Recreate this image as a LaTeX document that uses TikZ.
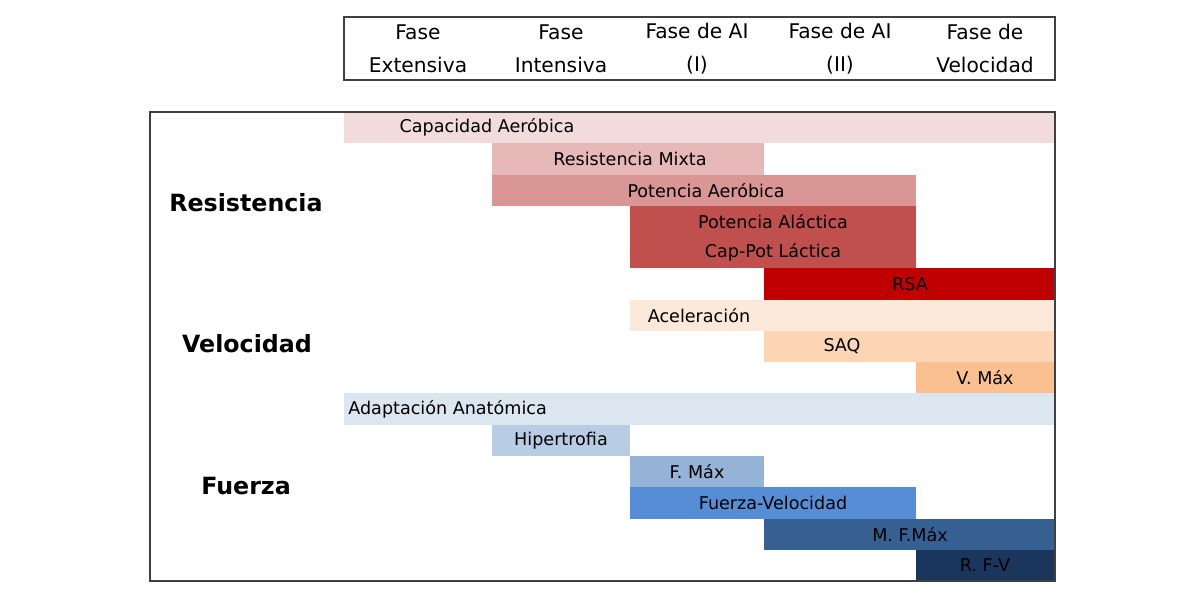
\documentclass[tikz,border=0pt]{standalone}
\usepackage{fontspec}
\setmainfont{DejaVu Sans}
\usepackage{tikz}

\definecolor{capaerC}{HTML}{F2DCDB}
\definecolor{resmixC}{HTML}{E6B9B8}
\definecolor{potaerC}{HTML}{D99694}
\definecolor{potalacC}{HTML}{C0504D}
\definecolor{rsaC}{HTML}{C00000}
\definecolor{acelC}{HTML}{FDE9D9}
\definecolor{saqC}{HTML}{FCD5B4}
\definecolor{vmaxC}{HTML}{FAC090}
\definecolor{adaptC}{HTML}{DCE6F1}
\definecolor{hiperC}{HTML}{B8CCE4}
\definecolor{fmaxC}{HTML}{95B3D7}
\definecolor{fvC}{HTML}{558ED5}
\definecolor{mfmaxC}{HTML}{376092}
\definecolor{rfvC}{HTML}{1B365D}

\begin{document}
\begin{tikzpicture}[
  x=0.02cm, y=-0.02cm,
  frame/.style = {draw=black!75, line width=0.8pt},
  head/.style  = {align=center, inner sep=0pt,
                  font=\fontsize{11.5}{18.7}\selectfont},
  lbl/.style   = {inner sep=0pt, font=\fontsize{10}{12}\selectfont},
  cat/.style   = {inner sep=0pt, font=\fontsize{13.5}{16}\selectfont\bfseries}
]
  \useasboundingbox (0,0) rectangle (1200,600);

  % header
  \draw[frame] (344,17) rectangle (1055,80);
  \node[head] (hext)  at (418,48.5) {Fase\\Extensiva};
  \node[head] (hint)  at (561,48.5) {Fase\\Intensiva};
  \node[head] (hai1)  at (697,48.5) {Fase de AI\\(I)};
  \node[head] (hai2)  at (840,48.5) {Fase de AI\\(II)};
  \node[head] (hvel)  at (985,48.5) {Fase de\\Velocidad};

  % Resistencia bars
  \fill[capaerC]  (344,112)   rectangle (1055,143.3);
  \fill[resmixC]  (492,143.3) rectangle (764,174.5);
  \fill[potaerC]  (492,174.5) rectangle (916,205.8);
  \fill[potalacC] (630,205.8) rectangle (916,268.4);
  \fill[rsaC]     (764,268.4) rectangle (1055,299.6);

  % Velocidad bars
  \fill[acelC]    (630,299.6) rectangle (1055,330.9);
  \fill[saqC]     (764,330.9) rectangle (1055,362.2);
  \fill[vmaxC]    (916,362.2) rectangle (1055,393.4);

  % Fuerza bars
  \fill[adaptC]   (344,393.4) rectangle (1055,424.7);
  \fill[hiperC]   (492,424.7) rectangle (630,456);
  \fill[fmaxC]    (630,456)   rectangle (764,487.3);
  \fill[fvC]      (630,487.3) rectangle (916,518.5);
  \fill[mfmaxC]   (764,518.5) rectangle (1055,549.8);
  \fill[rfvC]     (916,549.8) rectangle (1055,581);

  % main frame
  \draw[frame] (150,112) rectangle (1055,581);

  % bar labels
  \node[lbl] (capaer)  at (487,127.6) {Capacidad Aeróbica};
  \node[lbl] (resmix)  at (630,158.9) {Resistencia Mixta};
  \node[lbl] (potaer)  at (706,190.2) {Potencia Aeróbica};
  \node[lbl] (potalac) at (773,221.4) {Potencia Aláctica};
  \node[lbl] (cplac)   at (773,252.7) {Cap-Pot Láctica};
  \node[lbl] (rsa)     at (910,284)   {RSA};
  \node[lbl] (acel)    at (699,315.3) {Aceleración};
  \node[lbl] (saq)     at (842,346.5) {SAQ};
  \node[lbl] (vmax)    at (985,377.8) {V. Máx};
  \node[lbl, anchor=west] (adapt) at (348,409) {Adaptación Anatómica};
  \node[lbl] (hiper)   at (561,440.3) {Hipertrofia};
  \node[lbl] (fmax)    at (697,471.6) {F. Máx};
  \node[lbl] (fv)      at (773,502.9) {Fuerza-Velocidad};
  \node[lbl] (mfmax)   at (910,534.2) {M. F.Máx};
  \node[lbl] (rfv)     at (985,565.4) {R. F-V};

  % categories
  \node[cat] (resis) at (246,203) {Resistencia};
  \node[cat] (veloc) at (247,344) {Velocidad};
  \node[cat] (fuerz) at (246,486) {Fuerza};

\end{tikzpicture}
\end{document}
